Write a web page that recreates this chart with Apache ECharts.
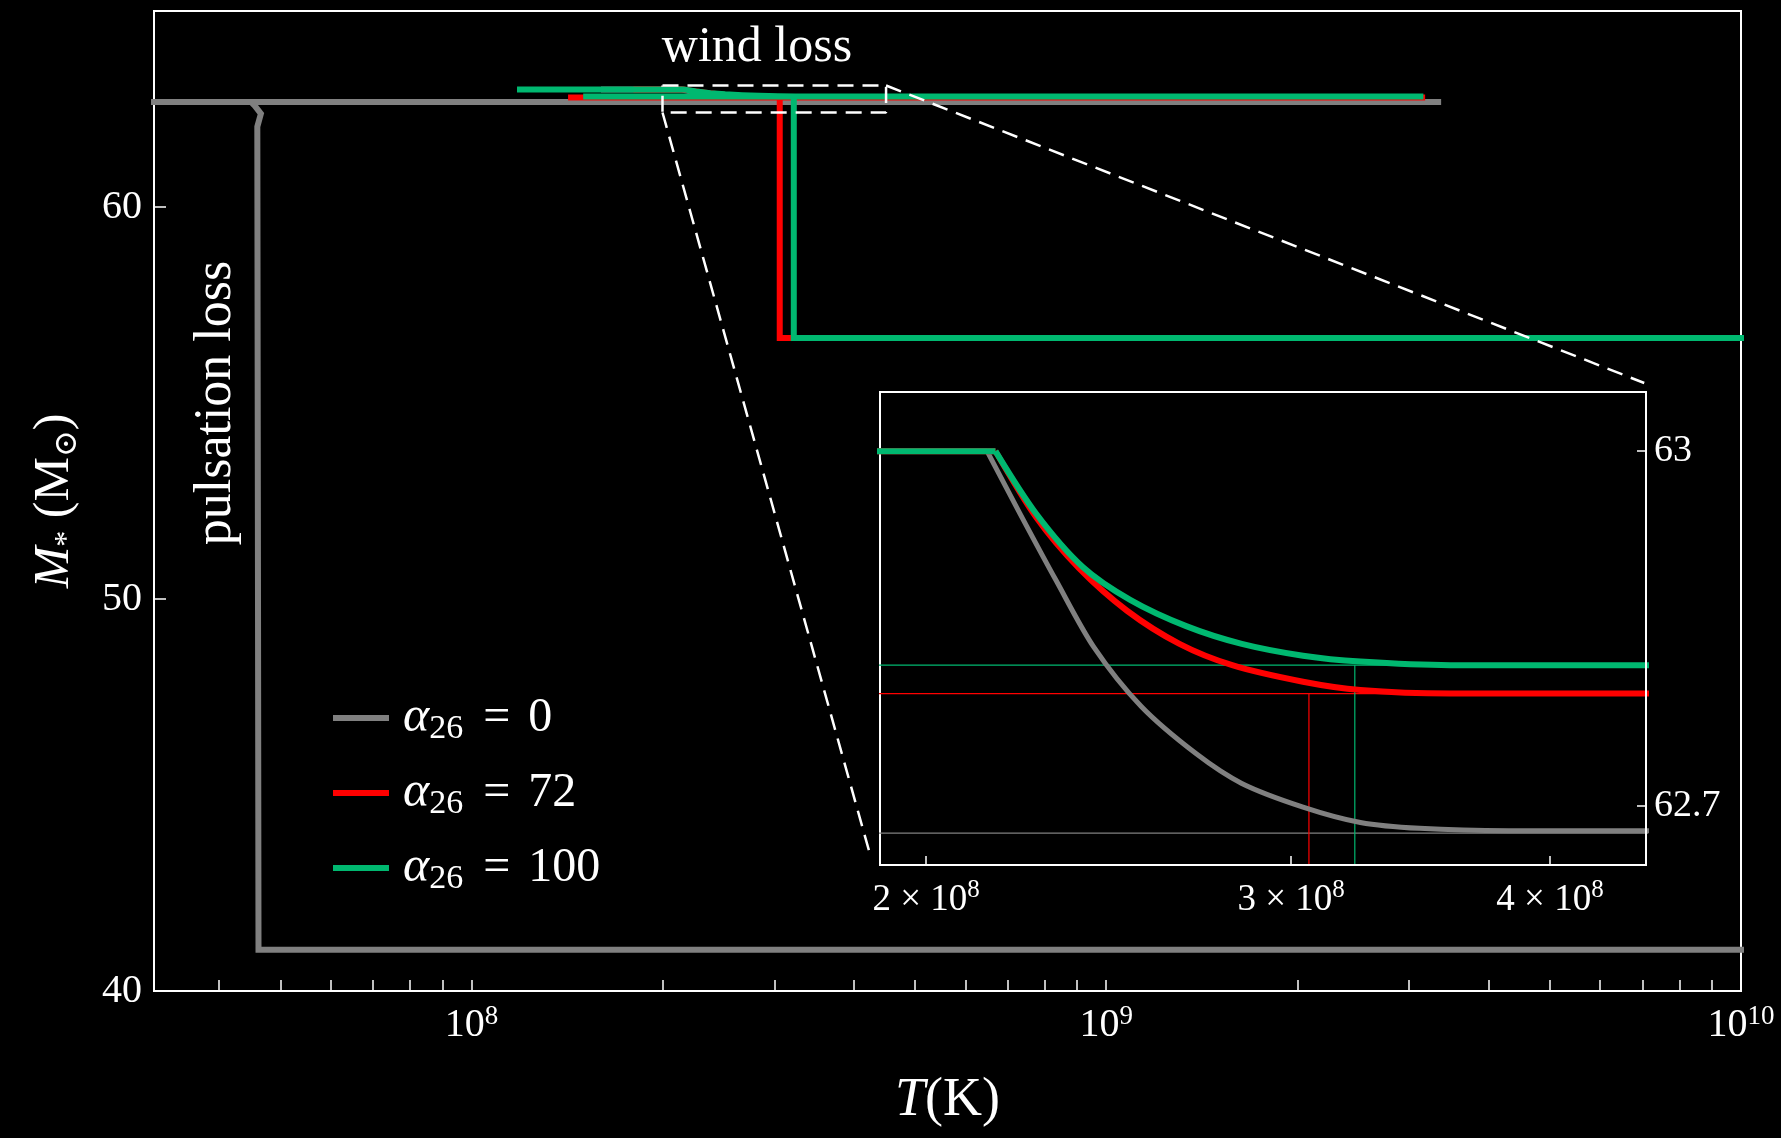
<!DOCTYPE html>
<html>
<head>
<meta charset="utf-8">
<script src="https://cdn.jsdelivr.net/npm/echarts@6/dist/echarts.min.js"></script>
<style>
  html, body { margin: 0; padding: 0; background: #000; }
  #chart { width: 1781px; height: 1138px; }
</style>
</head>
<body>
<div id="chart"></div>
<script>
// tracks: temperature T (K) and stellar mass M (Msun)
// "wind" part = heating phase with wind loss, "late" part = what follows
const grayWindT = [1.6e8, 2.14e8, 2.22e8, 2.31e8, 2.41e8, 2.54e8, 2.70e8, 2.84e8, 3.04e8, 3.24e8, 3.46e8, 3.82e8, 4.46e8, 3.37e9];
const grayWindM = [63.0, 63.0, 62.947, 62.891, 62.834, 62.784, 62.744, 62.719, 62.699, 62.686, 62.681, 62.679, 62.679, 62.679];
const grayLateT = [3.37e9, 2.9e7, 4.5e7, 4.56e7, 4.66e7, 4.6e7, 4.62e7, 1.05e10];
const grayLateM = [62.677, 62.677, 62.677, 62.58, 62.38, 62.05, 41.05, 41.05];

const redWindT = [1.8e8, 2.16e8, 2.26e8, 2.37e8, 2.50e8, 2.65e8, 2.81e8, 3.04e8, 3.24e8, 3.58e8, 4.46e8, 3.18e9];
const redWindM = [63.0, 63.0, 62.944, 62.901, 62.865, 62.837, 62.819, 62.805, 62.798, 62.795, 62.795, 62.795];
const redLateT = [3.18e9, 1.42e8, 3.06e8, 3.06e8, 1.05e10];
const redLateM = [62.795, 62.795, 62.795, 56.66, 56.66];

const greenWindT = [1.18e8, 2.16e8, 2.26e8, 2.38e8, 2.51e8, 2.67e8, 2.84e8, 3.04e8, 3.24e8, 3.58e8, 4.46e8, 3.16e9];
const greenWindM = [63.0, 63.0, 62.947, 62.902, 62.874, 62.852, 62.837, 62.827, 62.822, 62.819, 62.819, 62.819];
const greenLateT = [3.16e9, 1.5e8, 3.22e8, 3.22e8, 1.05e10];
const greenLateM = [62.819, 62.819, 62.819, 56.66, 56.66];

// ticks
const mainXTicks = [4e7, 5e7, 6e7, 7e7, 8e7, 9e7, 1e8, 2e8, 3e8, 4e8, 5e8, 6e8, 7e8, 8e8, 9e8,
                    1e9, 2e9, 3e9, 4e9, 5e9, 6e9, 7e9, 8e9, 9e9, 1e10];
const mainXLabels = [1e8, 1e9, 1e10];
const mainYTicks = [40, 50, 60];
const insetXTicks = [2e8, 3e8, 4e8];
const insetYTicks = [62.7, 63];

// zoom box and leader lines (data coords of the main panel)
const boxT = [2e8, 4.5e8, 4.5e8, 2e8, 2e8];
const boxM = [63.1, 63.1, 62.41, 62.41, 63.1];
const leadLowT = [2e8, 4.245e8];
const leadLowM = [62.41, 43.49];
const leadHighT = [4.5e8, 7.04e9];
const leadHighM = [63.1, 55.51];

const names = ['α26 = 0', 'α26 = 72', 'α26 = 100'];
const colors = ['#808080', '#ff0000', '#00b870'];

const FONT = "'Liberation Serif', 'DejaVu Serif', serif";
const zip = (t, m) => t.map((v, i) => [v, m[i]]);

const chart = echarts.init(document.getElementById('chart'));

function track(name, color, data, width, xi, z, smooth) {
  return {
    name: name, type: 'line', data: data, xAxisIndex: xi, yAxisIndex: xi,
    showSymbol: false, symbol: 'none', z: z, clip: true,
    smooth: smooth || false,
    lineStyle: { color: color, width: width, cap: 'butt', join: 'miter' },
    itemStyle: { color: color },
    emphasis: { disabled: true }
  };
}
function dashed(data) {
  return {
    type: 'line', data: data, xAxisIndex: 0, yAxisIndex: 0, showSymbol: false, symbol: 'none', z: 4,
    lineStyle: { color: '#fff', width: 2.5, type: [16, 9] }, emphasis: { disabled: true }
  };
}

const supRich = (size, supSize) => ({
  b: { fontFamily: FONT, fontSize: size, lineHeight: 44, color: '#fff' },
  p: { fontFamily: FONT, fontSize: supSize, lineHeight: 26, verticalAlign: 'top', color: '#fff' }
});

// inset: flat start kept sharp, the wind-loss bend smoothed
const insetWind = [];
[[grayWindT, grayWindM, 5], [redWindT, redWindM, 6], [greenWindT, greenWindM, 6]].forEach((d, k) => {
  const pts = zip(d[0], d[1]);
  insetWind.push(track('f' + k, colors[k], pts.slice(0, 2), d[2], 1, 5));
  insetWind.push(track('w' + k, colors[k], pts.slice(1, -1), d[2], 1, 5, 0.3));
  insetWind.push(track('e' + k, colors[k], pts.slice(-2), d[2], 1, 5));
});

const option = {
  backgroundColor: '#000',
  animation: false,
  grid: [
    { left: 154, top: 11, width: 1587, height: 980, show: true, borderColor: '#fff', borderWidth: 2, backgroundColor: 'transparent' },
    { left: 880, top: 392, width: 766, height: 473, show: true, borderColor: '#fff', borderWidth: 2, backgroundColor: '#000', z: 3 }
  ],
  xAxis: [
    {
      type: 'log', logBase: 10, gridIndex: 0, min: Math.pow(10, 7.5), max: 1e10,
      name: '{i|T}{r|(K)}', nameLocation: 'middle', nameGap: 80,
      nameTextStyle: { rich: {
        i: { fontFamily: FONT, fontSize: 54, fontStyle: 'italic', lineHeight: 60, color: '#fff' },
        r: { fontFamily: FONT, fontSize: 54, lineHeight: 60, color: '#fff' } } },
      axisLine: { show: true, lineStyle: { color: '#fff', width: 2 } },
      axisTick: { show: true, inside: true, length: 11, customValues: mainXTicks, lineStyle: { color: '#fff', width: 1.5 } },
      axisLabel: { customValues: mainXLabels, margin: 12, rich: supRich(40, 27),
        formatter: v => '{b|10}{p|' + Math.round(Math.log10(v)) + '}' },
      splitLine: { show: false }, minorTick: { show: false }
    },
    {
      type: 'log', logBase: 10, gridIndex: 1, min: 1.9e8, max: 4.45e8, z: 6,
      axisLine: { show: true, lineStyle: { color: '#fff', width: 2 } },
      axisTick: { show: true, inside: true, length: 9, customValues: insetXTicks, lineStyle: { color: '#fff', width: 1.5 } },
      axisLabel: { customValues: insetXTicks, margin: 13, rich: supRich(37, 25),
        formatter: v => '{b|' + Math.round(v / 1e8) + ' × 10}{p|8}' },
      splitLine: { show: false }
    }
  ],
  yAxis: [
    {
      type: 'value', gridIndex: 0, min: 40, max: 65,
      name: '{i|M}{s|*}{r| (M}{s|⊙}{r|)}', nameLocation: 'middle', nameGap: 70,
      nameTextStyle: { rich: {
        i: { fontFamily: FONT, fontSize: 50, fontStyle: 'italic', lineHeight: 58, color: '#fff' },
        r: { fontFamily: FONT, fontSize: 50, lineHeight: 58, color: '#fff' },
        s: { fontFamily: FONT, fontSize: 32, lineHeight: 32, verticalAlign: 'bottom', color: '#fff' } } },
      axisLine: { show: true, lineStyle: { color: '#fff', width: 2 } },
      axisTick: { show: true, inside: true, length: 12, customValues: mainYTicks, lineStyle: { color: '#fff', width: 1.5 } },
      axisLabel: { customValues: mainYTicks, margin: 12, color: '#fff', fontFamily: FONT, fontSize: 40 },
      splitLine: { show: false }
    },
    {
      type: 'value', gridIndex: 1, min: 62.65, max: 63.05, position: 'right', z: 6,
      axisLine: { show: true, lineStyle: { color: '#fff', width: 2 } },
      axisTick: { show: true, inside: true, length: 9, customValues: insetYTicks, lineStyle: { color: '#fff', width: 1.5 } },
      axisLabel: { customValues: insetYTicks, margin: 8, color: '#fff', fontFamily: FONT, fontSize: 38,
        formatter: v => String(Number(v.toFixed(1))) },
      splitLine: { show: false }
    }
  ],
  legend: {
    data: names, orient: 'vertical', left: 328, top: 688,
    icon: 'rect', itemWidth: 56, itemHeight: 6, itemGap: 22,
    formatter: n => '{a|α}{s|26}{q|=}{v|' + n.split('= ')[1] + '}',
    textStyle: { color: '#fff', rich: {
      a: { fontFamily: FONT, fontSize: 50, fontStyle: 'italic', lineHeight: 56, color: '#fff', padding: [0, 0, 0, 9] },
      s: { fontFamily: FONT, fontSize: 34, lineHeight: 32, verticalAlign: 'bottom', color: '#fff' },
      q: { fontFamily: FONT, fontSize: 48, lineHeight: 56, color: '#fff', padding: [0, 18, 0, 20] },
      v: { fontFamily: FONT, fontSize: 48, lineHeight: 56, color: '#fff' } } }
  },
  graphic: [
    { type: 'text', x: 757, y: 48, z: 10,
      style: { text: 'wind loss', fill: '#fff', font: '50px ' + FONT, align: 'center', verticalAlign: 'middle' } },
    { type: 'text', x: 216, y: 403, rotation: Math.PI / 2, z: 10,
      style: { text: 'pulsation loss', fill: '#fff', font: '52px ' + FONT, align: 'center', verticalAlign: 'middle' } }
  ],
  series: [
    // main panel
    track(names[0], colors[0], zip(grayWindT, grayWindM).concat(zip(grayLateT, grayLateM)), 6, 0, 2),
    track(names[1], colors[1], zip(redWindT, redWindM).concat(zip(redLateT, redLateM)), 6, 0, 2),
    track(names[2], colors[2], zip(greenWindT, greenWindM).concat(zip(greenLateT, greenLateM)), 6, 0, 2),
    // inset: later parts as thin lines
    track('in0', colors[0], zip(grayLateT, grayLateM), 1.2, 1, 5),
    track('in72', colors[1], zip(redLateT, redLateM), 1.2, 1, 5),
    track('in100', colors[2], zip(greenLateT, greenLateM), 1.2, 1, 5)
  ].concat(insetWind, [
    // zoom box and leader lines
    dashed(zip(boxT, boxM)),
    dashed(zip(leadLowT, leadLowM)),
    dashed(zip(leadHighT, leadHighM))
  ])
};

chart.setOption(option);
</script>
</body>
</html>
